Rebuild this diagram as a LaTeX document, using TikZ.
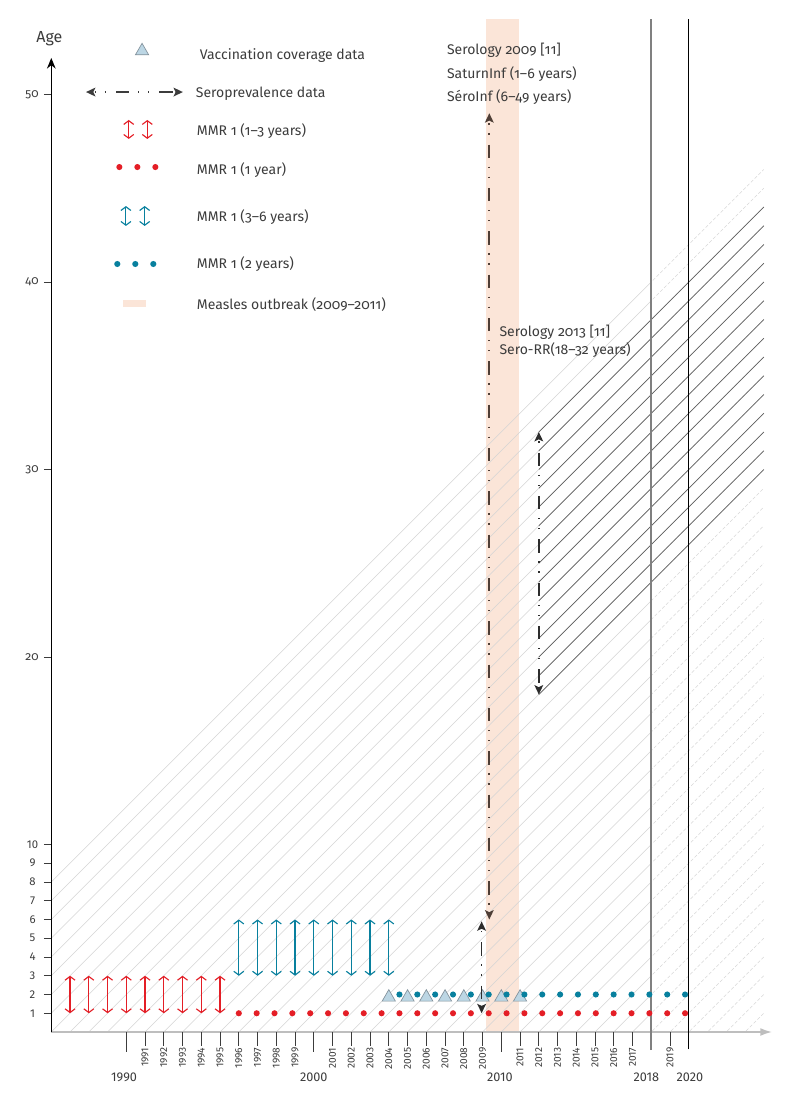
\documentclass[tikz,border=0pt]{standalone}
\usepackage{fontspec}
\setmainfont{Fira Sans}[Numbers=OldStyle]
\newfontfamily\lining{Fira Sans}[Numbers=Lining]
\usetikzlibrary{arrows.meta,shapes.geometric}

\definecolor{ink}{RGB}{60,60,60}
\definecolor{mmrred}{RGB}{228,30,38}
\definecolor{mmrteal}{RGB}{8,128,158}
\definecolor{vcfill}{RGB}{188,214,228}
\definecolor{vcedge}{RGB}{130,145,155}
\definecolor{outbreak}{RGB}{251,229,216}
\definecolor{seroA}{RGB}{78,62,54}
\definecolor{seroB}{RGB}{45,45,45}
\definecolor{hatchgray}{RGB}{212,212,212}
\definecolor{futgray}{RGB}{215,215,215}
\definecolor{cohortgray}{RGB}{95,95,95}
\definecolor{axisgray}{RGB}{190,190,190}

\begin{document}
\begin{tikzpicture}[
  x=14.0625pt, y=14.0625pt,
  font=\fontsize{10.5}{12.6}\selectfont,
  lbl/.style={text=ink, inner sep=0pt, anchor=base west},
  ytk/.style={text=ink, inner sep=0pt, font=\fontsize{9}{10}\selectfont},
  ytks/.style={ytk, font=\lining\fontsize{8.5}{10}\selectfont},
  yrlbl/.style={text=ink, inner sep=0pt, rotate=90, anchor=east, font=\lining\fontsize{7.6}{8}\selectfont},
  decade/.style={text=ink, inner sep=0pt, font=\lining\fontsize{9.5}{10}\selectfont},
  tk/.style={draw=ink, line width=0.7pt},
  hatch/.style={draw=hatchgray, line width=0.45pt},
  hatchfut/.style={draw=futgray, line width=0.45pt, dash pattern=on 2.5pt off 1.5pt},
  cohort/.style={draw=cohortgray, line width=0.55pt},
  mmr/.style={line width=0.85pt, >={Straight Barb[length=2.8pt,width=7.5pt]}, <->},
  mmr1/.style={mmr, draw=mmrred},
  mmr3/.style={mmr, draw=mmrteal},
  mdot/.style={circle, inner sep=0pt, minimum size=4.6pt},
  dot1/.style={mdot, fill=mmrred},
  dot2/.style={mdot, fill=mmrteal},
  vcov/.style={regular polygon, regular polygon sides=3, minimum size=11.5pt, inner sep=0pt, fill=vcfill, draw=vcedge, line width=0.5pt},
  sero/.style={line width=1.3pt, >={Stealth[length=7pt,width=6.5pt,inset=1.5pt]}, <->,
    dash pattern=on 10pt off 6.5pt on 1pt off 6.5pt on 1pt off 7.5pt},
]
\useasboundingbox (-2.736,-3.413) rectangle (39.61,55.04);

% outbreak band
\fill[outbreak] (23.18,0) rectangle (24.93,54);

% birth cohorts
\begin{scope}
  \clip (0,0) rectangle (32,60);
  \foreach \b in {1978,...,2017} {
    \pgfmathtruncatemacro\xs{\b-1996}
    \pgfmathtruncatemacro\ye{2024-\b}
    \draw[hatch] (\xs,-10) -- (38,\ye);
  }
\end{scope}
\begin{scope}
  \clip (32,0) rectangle (38,60);
  \foreach \b in {1978,...,2023} {
    \pgfmathtruncatemacro\xs{\b-1996}
    \pgfmathtruncatemacro\ye{2024-\b}
    \draw[hatchfut] (\xs,-10) -- (38,\ye);
  }
\end{scope}
\foreach \b in {1980,...,1994} {
  \pgfmathtruncatemacro\ya{2012-\b}
  \pgfmathtruncatemacro\ye{2024-\b}
  \draw[cohort] (26,\ya) -- (38,\ye);
}

% axes
\coordinate (O) at (0,0);
\coordinate (ytip) at (0,51.95);
\coordinate (xtip) at (38.45,0);
\draw[draw=axisgray, line width=1.5pt, -{Latex[length=9pt,width=6pt]}] (O) -- (xtip);
\draw[line width=1.1pt, -{Stealth[length=8pt,width=6.5pt]}] (O) -- (ytip);
\node[text=ink, font=\fontsize{12}{14}\selectfont, inner sep=0pt] (agelbl) at (-0.1,52.96) {Age};

\foreach \a in {1,...,10} {
  \draw[tk] (-0.39,\a) -- (0,\a);
  \node[ytks] (yl\a) at (-1.0,\a) {\a};
}
\foreach \a in {20,30,40,50} {
  \draw[tk] (-0.39,\a) -- (0,\a);
  \node[ytk] (yl\a) at (-1.03,\a) {\a};
}

\foreach \yr in {1991,...,2019} {
  \pgfmathtruncatemacro\u{\yr-1986}
  \ifnum\yr=2000\relax\else\ifnum\yr=2010\relax\else\ifnum\yr=2018\relax\else
    \draw[tk] (\u,0) -- (\u,-0.75);
    \node[yrlbl] (yr\yr) at (\u,-0.82) {\yr};
  \fi\fi\fi
}
\foreach \yr in {1990,2000,2010} {
  \pgfmathtruncatemacro\u{\yr-1986}
  \draw[tk] (\u,0) -- (\u,-1.07);
}
\node[decade] (d1990) at (3.88,-2.4) {1990};
\node[decade] (d2000) at (14,-2.4) {2000};
\node[decade] (d2010) at (23.93,-2.4) {2010};
\node[decade] (d2018) at (31.73,-2.4) {2018};
\node[decade] (d2020) at (34.06,-2.4) {2020};

% 2018 and 2020
\coordinate (v18a) at (32,-0.96);
\coordinate (v18b) at (32,54.03);
\draw[draw=black!50, line width=1.4pt] (v18a) -- (v18b);
\coordinate (v20a) at (34,-0.93);
\coordinate (v20b) at (34,54.03);
\draw[line width=0.9pt] (v20a) -- (v20b);

% MMR 1
\foreach \i in {1,...,9} {
  \coordinate (ra\i) at (\i,1);
  \coordinate (rb\i) at (\i,3);
  \draw[mmr1] (ra\i) -- (rb\i);
}
\foreach \i in {10,...,18} {
  \coordinate (ta\i) at (\i,3);
  \coordinate (tb\i) at (\i,6);
  \draw[mmr3] (ta\i) -- (tb\i);
}
\foreach \i in {18,...,25} { \node[vcov] (vc\i) at (\i,1.85) {}; }
\foreach \k in {0,...,25} { \node[dot1] (da\k) at ({10+0.952*\k},1) {}; }
\foreach \k in {9,...,25} { \node[dot2] (db\k) at ({10+0.952*\k},2) {}; }

% seroprevalence
\coordinate (sa) at (23.36,49);
\coordinate (sb) at (23.36,6);
\draw[sero, draw=seroA, dash phase=14pt] (sa) -- (sb);
\coordinate (sc) at (22.95,5.9);
\coordinate (sd) at (22.95,1);
\draw[sero, draw=seroB, dash phase=22pt] (sc) -- (sd);
\coordinate (se) at (26,32);
\coordinate (sf) at (26,18);
\draw[sero, draw=seroB, dash phase=22pt] (se) -- (sf);

\node[lbl] (s09) at (21.09,52.11) {Serology 2009 [11]};
\node[lbl] (satinf) at (21.09,50.86) {SaturnInf (1–6 years)};
\node[lbl] (serinf) at (21.09,49.62) {SéroInf (6–49 years)};
\node[lbl] (s13) at (23.89,37.08) {Serology 2013 [11]};
\node[lbl] (serorr) at (23.89,36.11) {Sero-RR(18–32 years)};

% legend
\node[vcov] (legtri) at (4.84,52.32) {};
\coordinate (lsa) at (1.85,50.13);
\coordinate (lsb) at (7.02,50.13);
\draw[sero, draw=ink, dash phase=15pt] (lsa) -- (lsb);
\foreach \x [count=\n] in {4.13,5.12} {
  \coordinate (lra\n) at (\x,47.63);
  \coordinate (lrb\n) at (\x,48.64);
  \draw[mmr1] (lra\n) -- (lrb\n);
}
\foreach \x [count=\n] in {3.63,4.59,5.55} { \node[dot1] (lda\n) at (\x,46.13) {}; }
\foreach \x [count=\n] in {3.98,4.98} {
  \coordinate (lta\n) at (\x,42.99);
  \coordinate (ltb\n) at (\x,44.05);
  \draw[mmr3] (lta\n) -- (ltb\n);
}
\foreach \x [count=\n] in {3.52,4.48,5.44} { \node[dot2] (ldb\n) at (\x,40.96) {}; }
\fill[outbreak] (3.82,38.67) rectangle (5.05,39.04);

\node[lbl] (vcleg) at (7.91,51.88) {Vaccination coverage data};
\node[lbl] (seroleg) at (7.70,49.83) {Seroprevalence data};
\node[lbl] (mmr13) at (7.75,47.79) {MMR 1 (1–3 years)};
\node[lbl] (mmr1y) at (7.75,45.71) {MMR 1 (1 year)};
\node[lbl] (mmr36) at (7.75,43.22) {MMR 1 (3–6 years)};
\node[lbl] (mmr2y) at (7.75,40.71) {MMR 1 (2 years)};
\node[lbl] (outleg) at (7.75,38.54) {Measles outbreak (2009–2011)};
\end{tikzpicture}
\end{document}
